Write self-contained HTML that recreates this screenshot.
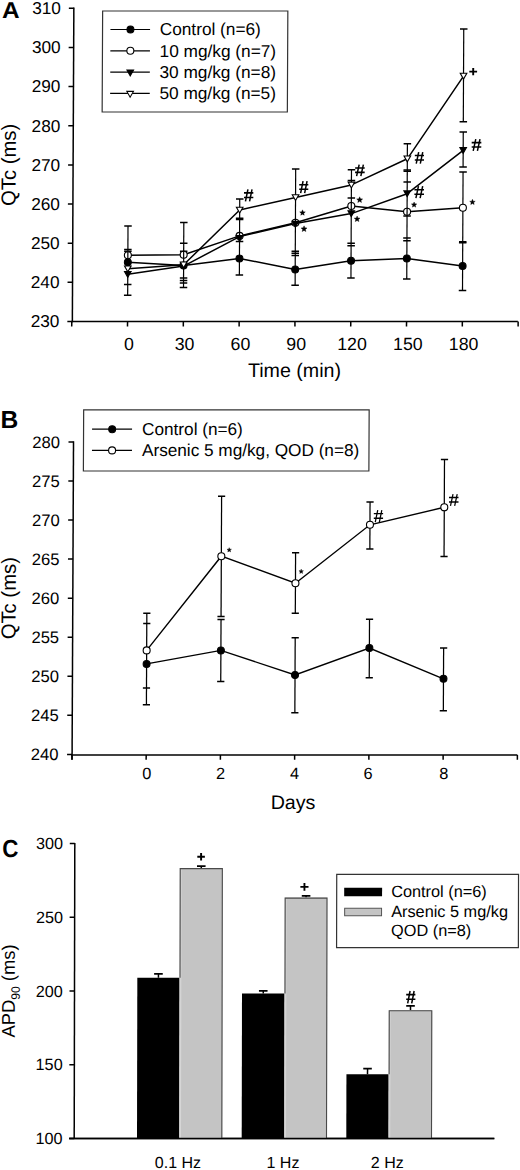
<!DOCTYPE html>
<html><head><meta charset="utf-8"><style>
html,body{margin:0;padding:0;background:#fff;overflow:hidden;width:520px;height:1170px;}
svg{display:block;}
text{fill:#000;}
</style></head><body>
<svg width="520" height="1170" viewBox="0 0 520 1170">
<rect width="520" height="1170" fill="#fff"/>
<g transform="matrix(1,0,-0.0048,1,0.792,0)">
<text transform="translate(1.2,17.9) scale(1.06,1)" font-size="23" font-weight="bold" font-family='"Liberation Sans", sans-serif'>A</text>
<line x1="73.10" y1="7.60" x2="73.10" y2="322.20" stroke="#000" stroke-width="1.5"/>
<line x1="68.10" y1="321.50" x2="73.10" y2="321.50" stroke="#000" stroke-width="1.5"/>
<text x="60.10" y="327.40" font-size="17.2" text-anchor="end" font-weight="normal" font-family='"Liberation Sans", sans-serif' >230</text>
<line x1="68.10" y1="282.35" x2="73.10" y2="282.35" stroke="#000" stroke-width="1.5"/>
<text x="60.10" y="288.25" font-size="17.2" text-anchor="end" font-weight="normal" font-family='"Liberation Sans", sans-serif' >240</text>
<line x1="68.10" y1="243.20" x2="73.10" y2="243.20" stroke="#000" stroke-width="1.5"/>
<text x="60.10" y="249.10" font-size="17.2" text-anchor="end" font-weight="normal" font-family='"Liberation Sans", sans-serif' >250</text>
<line x1="68.10" y1="204.05" x2="73.10" y2="204.05" stroke="#000" stroke-width="1.5"/>
<text x="60.10" y="209.95" font-size="17.2" text-anchor="end" font-weight="normal" font-family='"Liberation Sans", sans-serif' >260</text>
<line x1="68.10" y1="164.90" x2="73.10" y2="164.90" stroke="#000" stroke-width="1.5"/>
<text x="60.10" y="170.80" font-size="17.2" text-anchor="end" font-weight="normal" font-family='"Liberation Sans", sans-serif' >270</text>
<line x1="68.10" y1="125.75" x2="73.10" y2="125.75" stroke="#000" stroke-width="1.5"/>
<text x="60.10" y="131.65" font-size="17.2" text-anchor="end" font-weight="normal" font-family='"Liberation Sans", sans-serif' >280</text>
<line x1="68.10" y1="86.60" x2="73.10" y2="86.60" stroke="#000" stroke-width="1.5"/>
<text x="60.10" y="92.50" font-size="17.2" text-anchor="end" font-weight="normal" font-family='"Liberation Sans", sans-serif' >290</text>
<line x1="68.10" y1="47.45" x2="73.10" y2="47.45" stroke="#000" stroke-width="1.5"/>
<text x="60.10" y="53.35" font-size="17.2" text-anchor="end" font-weight="normal" font-family='"Liberation Sans", sans-serif' >300</text>
<line x1="68.10" y1="8.30" x2="73.10" y2="8.30" stroke="#000" stroke-width="1.5"/>
<text x="60.10" y="14.20" font-size="17.2" text-anchor="end" font-weight="normal" font-family='"Liberation Sans", sans-serif' >310</text>
<line x1="72.40" y1="321.50" x2="518.60" y2="321.50" stroke="#000" stroke-width="1.5"/>
<line x1="72.50" y1="321.50" x2="72.50" y2="326.50" stroke="#000" stroke-width="1.5"/>
<line x1="128.30" y1="321.50" x2="128.30" y2="326.50" stroke="#000" stroke-width="1.5"/>
<text x="129.70" y="349.60" font-size="17.7" text-anchor="middle" font-weight="normal" font-family='"Liberation Sans", sans-serif' >0</text>
<line x1="184.10" y1="321.50" x2="184.10" y2="326.50" stroke="#000" stroke-width="1.5"/>
<text x="185.50" y="349.60" font-size="17.7" text-anchor="middle" font-weight="normal" font-family='"Liberation Sans", sans-serif' >30</text>
<line x1="239.90" y1="321.50" x2="239.90" y2="326.50" stroke="#000" stroke-width="1.5"/>
<text x="241.30" y="349.60" font-size="17.7" text-anchor="middle" font-weight="normal" font-family='"Liberation Sans", sans-serif' >60</text>
<line x1="295.70" y1="321.50" x2="295.70" y2="326.50" stroke="#000" stroke-width="1.5"/>
<text x="297.10" y="349.60" font-size="17.7" text-anchor="middle" font-weight="normal" font-family='"Liberation Sans", sans-serif' >90</text>
<line x1="351.50" y1="321.50" x2="351.50" y2="326.50" stroke="#000" stroke-width="1.5"/>
<text x="352.90" y="349.60" font-size="17.7" text-anchor="middle" font-weight="normal" font-family='"Liberation Sans", sans-serif' >120</text>
<line x1="407.30" y1="321.50" x2="407.30" y2="326.50" stroke="#000" stroke-width="1.5"/>
<text x="408.70" y="349.60" font-size="17.7" text-anchor="middle" font-weight="normal" font-family='"Liberation Sans", sans-serif' >150</text>
<line x1="463.10" y1="321.50" x2="463.10" y2="326.50" stroke="#000" stroke-width="1.5"/>
<text x="464.50" y="349.60" font-size="17.7" text-anchor="middle" font-weight="normal" font-family='"Liberation Sans", sans-serif' >180</text>
<line x1="518.90" y1="321.50" x2="518.90" y2="326.50" stroke="#000" stroke-width="1.5"/>
<text x="295.50" y="377.30" font-size="19.6" text-anchor="middle" font-weight="normal" font-family='"Liberation Sans", sans-serif' >Time (min)</text>
<text transform="translate(15.7,164.9) rotate(-90)" font-size="20.3" text-anchor="middle" font-family='"Liberation Sans", sans-serif'>QTc (ms)</text>
<line x1="128.30" y1="226.00" x2="128.30" y2="295.20" stroke="#000" stroke-width="1.2"/>
<line x1="124.55" y1="226.00" x2="132.05" y2="226.00" stroke="#000" stroke-width="1.5"/>
<line x1="124.55" y1="249.60" x2="132.05" y2="249.60" stroke="#000" stroke-width="1.5"/>
<line x1="124.55" y1="251.20" x2="132.05" y2="251.20" stroke="#000" stroke-width="1.5"/>
<line x1="124.55" y1="284.50" x2="132.05" y2="284.50" stroke="#000" stroke-width="1.5"/>
<line x1="124.55" y1="295.20" x2="132.05" y2="295.20" stroke="#000" stroke-width="1.5"/>
<line x1="184.10" y1="222.40" x2="184.10" y2="287.60" stroke="#000" stroke-width="1.2"/>
<line x1="180.35" y1="222.40" x2="187.85" y2="222.40" stroke="#000" stroke-width="1.5"/>
<line x1="180.35" y1="243.20" x2="187.85" y2="243.20" stroke="#000" stroke-width="1.5"/>
<line x1="180.35" y1="251.30" x2="187.85" y2="251.30" stroke="#000" stroke-width="1.5"/>
<line x1="180.35" y1="278.00" x2="187.85" y2="278.00" stroke="#000" stroke-width="1.5"/>
<line x1="180.35" y1="280.60" x2="187.85" y2="280.60" stroke="#000" stroke-width="1.5"/>
<line x1="180.35" y1="283.00" x2="187.85" y2="283.00" stroke="#000" stroke-width="1.5"/>
<line x1="180.35" y1="287.60" x2="187.85" y2="287.60" stroke="#000" stroke-width="1.5"/>
<line x1="239.90" y1="199.00" x2="239.90" y2="274.90" stroke="#000" stroke-width="1.2"/>
<line x1="236.15" y1="199.00" x2="243.65" y2="199.00" stroke="#000" stroke-width="1.5"/>
<line x1="236.15" y1="218.30" x2="243.65" y2="218.30" stroke="#000" stroke-width="1.5"/>
<line x1="236.15" y1="219.50" x2="243.65" y2="219.50" stroke="#000" stroke-width="1.5"/>
<line x1="236.15" y1="241.50" x2="243.65" y2="241.50" stroke="#000" stroke-width="1.5"/>
<line x1="236.15" y1="274.90" x2="243.65" y2="274.90" stroke="#000" stroke-width="1.5"/>
<line x1="295.70" y1="169.10" x2="295.70" y2="285.30" stroke="#000" stroke-width="1.2"/>
<line x1="291.95" y1="169.10" x2="299.45" y2="169.10" stroke="#000" stroke-width="1.5"/>
<line x1="291.95" y1="251.30" x2="299.45" y2="251.30" stroke="#000" stroke-width="1.5"/>
<line x1="291.95" y1="253.30" x2="299.45" y2="253.30" stroke="#000" stroke-width="1.5"/>
<line x1="291.95" y1="255.40" x2="299.45" y2="255.40" stroke="#000" stroke-width="1.5"/>
<line x1="291.95" y1="285.30" x2="299.45" y2="285.30" stroke="#000" stroke-width="1.5"/>
<line x1="351.50" y1="169.70" x2="351.50" y2="278.00" stroke="#000" stroke-width="1.2"/>
<line x1="347.75" y1="169.70" x2="355.25" y2="169.70" stroke="#000" stroke-width="1.5"/>
<line x1="347.75" y1="180.50" x2="355.25" y2="180.50" stroke="#000" stroke-width="1.5"/>
<line x1="347.75" y1="197.90" x2="355.25" y2="197.90" stroke="#000" stroke-width="1.5"/>
<line x1="347.75" y1="243.30" x2="355.25" y2="243.30" stroke="#000" stroke-width="1.5"/>
<line x1="347.75" y1="245.70" x2="355.25" y2="245.70" stroke="#000" stroke-width="1.5"/>
<line x1="347.75" y1="278.00" x2="355.25" y2="278.00" stroke="#000" stroke-width="1.5"/>
<line x1="407.30" y1="143.70" x2="407.30" y2="279.00" stroke="#000" stroke-width="1.2"/>
<line x1="403.55" y1="143.70" x2="411.05" y2="143.70" stroke="#000" stroke-width="1.5"/>
<line x1="403.55" y1="170.00" x2="411.05" y2="170.00" stroke="#000" stroke-width="1.5"/>
<line x1="403.55" y1="171.20" x2="411.05" y2="171.20" stroke="#000" stroke-width="1.5"/>
<line x1="403.55" y1="182.00" x2="411.05" y2="182.00" stroke="#000" stroke-width="1.5"/>
<line x1="403.55" y1="215.90" x2="411.05" y2="215.90" stroke="#000" stroke-width="1.5"/>
<line x1="403.55" y1="238.00" x2="411.05" y2="238.00" stroke="#000" stroke-width="1.5"/>
<line x1="403.55" y1="240.80" x2="411.05" y2="240.80" stroke="#000" stroke-width="1.5"/>
<line x1="403.55" y1="279.00" x2="411.05" y2="279.00" stroke="#000" stroke-width="1.5"/>
<line x1="463.10" y1="29.00" x2="463.10" y2="121.70" stroke="#000" stroke-width="1.2"/>
<line x1="463.10" y1="132.10" x2="463.10" y2="167.10" stroke="#000" stroke-width="1.2"/>
<line x1="463.10" y1="172.10" x2="463.10" y2="290.40" stroke="#000" stroke-width="1.2"/>
<line x1="459.35" y1="29.00" x2="466.85" y2="29.00" stroke="#000" stroke-width="1.5"/>
<line x1="459.35" y1="121.70" x2="466.85" y2="121.70" stroke="#000" stroke-width="1.5"/>
<line x1="459.35" y1="132.10" x2="466.85" y2="132.10" stroke="#000" stroke-width="1.5"/>
<line x1="459.35" y1="167.10" x2="466.85" y2="167.10" stroke="#000" stroke-width="1.5"/>
<line x1="459.35" y1="172.10" x2="466.85" y2="172.10" stroke="#000" stroke-width="1.5"/>
<line x1="459.35" y1="241.80" x2="466.85" y2="241.80" stroke="#000" stroke-width="1.5"/>
<line x1="459.35" y1="242.80" x2="466.85" y2="242.80" stroke="#000" stroke-width="1.5"/>
<line x1="459.35" y1="290.40" x2="466.85" y2="290.40" stroke="#000" stroke-width="1.5"/>
<polyline points="128.30,262.20 184.10,265.40 239.90,258.50 295.70,269.40 351.50,260.70 407.30,258.60 463.10,266.10" fill="none" stroke="#000" stroke-width="1.5" stroke-linejoin="round"/>
<circle cx="128.30" cy="262.20" r="3.5" fill="#000" stroke="#000" stroke-width="1"/>
<circle cx="184.10" cy="265.40" r="3.5" fill="#000" stroke="#000" stroke-width="1"/>
<circle cx="239.90" cy="258.50" r="3.5" fill="#000" stroke="#000" stroke-width="1"/>
<circle cx="295.70" cy="269.40" r="3.5" fill="#000" stroke="#000" stroke-width="1"/>
<circle cx="351.50" cy="260.70" r="3.5" fill="#000" stroke="#000" stroke-width="1"/>
<circle cx="407.30" cy="258.60" r="3.5" fill="#000" stroke="#000" stroke-width="1"/>
<circle cx="463.10" cy="266.10" r="3.5" fill="#000" stroke="#000" stroke-width="1"/>
<polyline points="128.30,255.20 184.10,254.70 239.90,235.90 295.70,222.80 351.50,206.00 407.30,211.80 463.10,207.70" fill="none" stroke="#000" stroke-width="1.5" stroke-linejoin="round"/>
<circle cx="128.30" cy="255.20" r="3.5" fill="#fff" stroke="#000" stroke-width="1.1"/>
<circle cx="184.10" cy="254.70" r="3.5" fill="#fff" stroke="#000" stroke-width="1.1"/>
<circle cx="239.90" cy="235.90" r="3.5" fill="#fff" stroke="#000" stroke-width="1.1"/>
<circle cx="295.70" cy="222.80" r="3.5" fill="#fff" stroke="#000" stroke-width="1.1"/>
<circle cx="351.50" cy="206.00" r="3.5" fill="#fff" stroke="#000" stroke-width="1.1"/>
<circle cx="407.30" cy="211.80" r="3.5" fill="#fff" stroke="#000" stroke-width="1.1"/>
<circle cx="463.10" cy="207.70" r="3.5" fill="#fff" stroke="#000" stroke-width="1.1"/>
<line x1="128.30" y1="251.20" x2="128.30" y2="259.20" stroke="#000" stroke-width="1.2"/>
<line x1="184.10" y1="250.70" x2="184.10" y2="258.70" stroke="#000" stroke-width="1.2"/>
<line x1="239.90" y1="231.90" x2="239.90" y2="239.90" stroke="#000" stroke-width="1.2"/>
<line x1="295.70" y1="218.80" x2="295.70" y2="226.80" stroke="#000" stroke-width="1.2"/>
<line x1="351.50" y1="202.00" x2="351.50" y2="210.00" stroke="#000" stroke-width="1.2"/>
<line x1="407.30" y1="207.80" x2="407.30" y2="215.80" stroke="#000" stroke-width="1.2"/>
<line x1="236.30" y1="235.60" x2="243.50" y2="235.60" stroke="#000" stroke-width="1.3"/>
<polyline points="128.30,274.30 184.10,266.10 239.90,236.60 295.70,223.40 351.50,213.60 407.30,193.70 463.10,150.30" fill="none" stroke="#000" stroke-width="1.5" stroke-linejoin="round"/>
<polygon points="125.00,271.50 131.60,271.50 128.30,277.30" fill="#000" stroke="#000" stroke-width="1.1" stroke-linejoin="miter"/>
<polygon points="180.80,263.30 187.40,263.30 184.10,269.10" fill="#000" stroke="#000" stroke-width="1.1" stroke-linejoin="miter"/>
<polygon points="236.60,235.60 243.20,235.60 239.90,241.40" fill="#000" stroke="#000" stroke-width="1.1" stroke-linejoin="miter"/>
<polygon points="292.40,221.40 299.00,221.40 295.70,227.20" fill="#000" stroke="#000" stroke-width="1.1" stroke-linejoin="miter"/>
<polygon points="348.20,210.80 354.80,210.80 351.50,216.60" fill="#000" stroke="#000" stroke-width="1.1" stroke-linejoin="miter"/>
<polygon points="404.00,190.90 410.60,190.90 407.30,196.70" fill="#000" stroke="#000" stroke-width="1.1" stroke-linejoin="miter"/>
<polygon points="459.80,147.50 466.40,147.50 463.10,153.30" fill="#000" stroke="#000" stroke-width="1.1" stroke-linejoin="miter"/>
<polyline points="128.30,268.80 184.10,264.80 239.90,210.00 295.70,197.50 351.50,184.90 407.30,158.80 463.10,76.10" fill="none" stroke="#000" stroke-width="1.5" stroke-linejoin="round"/>
<polygon points="125.00,266.00 131.60,266.00 128.30,271.80" fill="#fff" stroke="#000" stroke-width="1.1" stroke-linejoin="miter"/>
<polygon points="180.80,262.00 187.40,262.00 184.10,267.80" fill="#fff" stroke="#000" stroke-width="1.1" stroke-linejoin="miter"/>
<polygon points="236.60,207.20 243.20,207.20 239.90,213.00" fill="#fff" stroke="#000" stroke-width="1.1" stroke-linejoin="miter"/>
<polygon points="292.40,194.70 299.00,194.70 295.70,200.50" fill="#fff" stroke="#000" stroke-width="1.1" stroke-linejoin="miter"/>
<polygon points="348.20,182.10 354.80,182.10 351.50,187.90" fill="#fff" stroke="#000" stroke-width="1.1" stroke-linejoin="miter"/>
<polygon points="404.00,156.00 410.60,156.00 407.30,161.80" fill="#fff" stroke="#000" stroke-width="1.1" stroke-linejoin="miter"/>
<polygon points="459.80,73.30 466.40,73.30 463.10,79.10" fill="#fff" stroke="#000" stroke-width="1.1" stroke-linejoin="miter"/>
<line x1="248.05" y1="189.40" x2="245.63" y2="201.30" stroke="#000" stroke-width="1.5"/>
<line x1="252.14" y1="189.40" x2="249.73" y2="201.30" stroke="#000" stroke-width="1.5"/>
<line x1="244.15" y1="192.89" x2="253.45" y2="192.89" stroke="#000" stroke-width="1.6"/>
<line x1="244.15" y1="197.44" x2="253.45" y2="197.44" stroke="#000" stroke-width="1.6"/>
<line x1="303.13" y1="181.20" x2="300.76" y2="193.10" stroke="#000" stroke-width="1.5"/>
<line x1="307.13" y1="181.20" x2="304.77" y2="193.10" stroke="#000" stroke-width="1.5"/>
<line x1="299.31" y1="184.69" x2="308.41" y2="184.69" stroke="#000" stroke-width="1.6"/>
<line x1="299.31" y1="189.24" x2="308.41" y2="189.24" stroke="#000" stroke-width="1.6"/>
<polygon points="302.73,209.85 303.51,211.73 305.53,211.89 303.99,213.21 304.46,215.19 302.73,214.13 300.99,215.19 301.47,213.21 299.92,211.89 301.95,211.73" fill="#000" stroke="#000" stroke-width="0.4"/>
<polygon points="304.36,225.87 305.18,227.86 307.33,228.03 305.69,229.43 306.19,231.53 304.36,230.41 302.52,231.53 303.02,229.43 301.38,228.03 303.53,227.86" fill="#000" stroke="#000" stroke-width="0.4"/>
<line x1="359.16" y1="164.60" x2="356.66" y2="176.10" stroke="#000" stroke-width="1.5"/>
<line x1="363.38" y1="164.60" x2="360.89" y2="176.10" stroke="#000" stroke-width="1.5"/>
<line x1="355.13" y1="167.97" x2="364.73" y2="167.97" stroke="#000" stroke-width="1.6"/>
<line x1="355.13" y1="172.37" x2="364.73" y2="172.37" stroke="#000" stroke-width="1.6"/>
<polygon points="359.82,196.82 360.64,198.81 362.79,198.98 361.15,200.38 361.65,202.48 359.82,201.36 357.98,202.48 358.48,200.38 356.84,198.98 358.99,198.81" fill="#000" stroke="#000" stroke-width="0.4"/>
<polygon points="357.36,216.03 358.17,217.98 360.28,218.15 358.67,219.53 359.16,221.58 357.36,220.48 355.55,221.58 356.05,219.53 354.44,218.15 356.55,217.98" fill="#000" stroke="#000" stroke-width="0.4"/>
<line x1="418.63" y1="152.10" x2="416.24" y2="163.70" stroke="#000" stroke-width="1.5"/>
<line x1="422.68" y1="152.10" x2="420.29" y2="163.70" stroke="#000" stroke-width="1.5"/>
<line x1="414.77" y1="155.50" x2="423.97" y2="155.50" stroke="#000" stroke-width="1.6"/>
<line x1="414.77" y1="159.94" x2="423.97" y2="159.94" stroke="#000" stroke-width="1.6"/>
<line x1="418.56" y1="186.20" x2="416.07" y2="198.20" stroke="#000" stroke-width="1.5"/>
<line x1="422.79" y1="186.20" x2="420.29" y2="198.20" stroke="#000" stroke-width="1.5"/>
<line x1="414.53" y1="189.72" x2="424.13" y2="189.72" stroke="#000" stroke-width="1.6"/>
<line x1="414.53" y1="194.31" x2="424.13" y2="194.31" stroke="#000" stroke-width="1.6"/>
<polygon points="414.29,202.02 415.04,203.82 416.98,203.97 415.50,205.24 415.95,207.14 414.29,206.12 412.63,207.14 413.08,205.24 411.60,203.97 413.54,203.82" fill="#000" stroke="#000" stroke-width="0.4"/>
<line x1="468.85" y1="71.60" x2="476.65" y2="71.60" stroke="#000" stroke-width="1.9"/>
<line x1="472.75" y1="67.90" x2="472.75" y2="75.30" stroke="#000" stroke-width="1.9"/>
<line x1="475.64" y1="139.20" x2="473.14" y2="150.80" stroke="#000" stroke-width="1.5"/>
<line x1="479.86" y1="139.20" x2="477.36" y2="150.80" stroke="#000" stroke-width="1.5"/>
<line x1="471.60" y1="142.60" x2="481.20" y2="142.60" stroke="#000" stroke-width="1.6"/>
<line x1="471.60" y1="147.04" x2="481.20" y2="147.04" stroke="#000" stroke-width="1.6"/>
<polygon points="472.63,199.31 473.39,201.15 475.38,201.31 473.86,202.60 474.33,204.54 472.63,203.50 470.93,204.54 471.39,202.60 469.88,201.31 471.86,201.15" fill="#000" stroke="#000" stroke-width="0.4"/>
<rect x="101.9" y="11" width="185.2" height="101" fill="#fff" stroke="#333" stroke-width="1.2"/>
<line x1="109.80" y1="29.50" x2="149.40" y2="29.50" stroke="#000" stroke-width="1.2"/>
<circle cx="129.80" cy="29.50" r="3.5" fill="#000" stroke="#000" stroke-width="1"/>
<text x="159.10" y="35.30" font-size="17.25" text-anchor="start" font-weight="normal" font-family='"Liberation Sans", sans-serif' >Control (n=6)</text>
<line x1="109.80" y1="50.80" x2="149.40" y2="50.80" stroke="#000" stroke-width="1.2"/>
<circle cx="129.80" cy="50.80" r="3.5" fill="#fff" stroke="#000" stroke-width="1.1"/>
<text x="159.10" y="56.60" font-size="17.25" text-anchor="start" font-weight="normal" font-family='"Liberation Sans", sans-serif' >10 mg/kg (n=7)</text>
<line x1="109.80" y1="72.10" x2="149.40" y2="72.10" stroke="#000" stroke-width="1.2"/>
<polygon points="126.50,70.10 133.10,70.10 129.80,75.90" fill="#000" stroke="#000" stroke-width="1.1" stroke-linejoin="miter"/>
<text x="159.10" y="77.90" font-size="17.25" text-anchor="start" font-weight="normal" font-family='"Liberation Sans", sans-serif' >30 mg/kg (n=8)</text>
<line x1="109.80" y1="93.40" x2="149.40" y2="93.40" stroke="#000" stroke-width="1.2"/>
<polygon points="126.50,91.40 133.10,91.40 129.80,97.20" fill="#fff" stroke="#000" stroke-width="1.1" stroke-linejoin="miter"/>
<text x="159.10" y="99.20" font-size="17.25" text-anchor="start" font-weight="normal" font-family='"Liberation Sans", sans-serif' >50 mg/kg (n=5)</text>
</g>
<g transform="matrix(1,0,-0.0046,1,2.751,0)">
<text transform="translate(-0.3,428.4) scale(1,1)" font-size="24.6" font-weight="bold" font-family='"Liberation Sans", sans-serif'>B</text>
<line x1="72.80" y1="441.20" x2="72.80" y2="759.80" stroke="#000" stroke-width="1.5"/>
<line x1="67.80" y1="754.40" x2="72.80" y2="754.40" stroke="#000" stroke-width="1.5"/>
<text x="59.30" y="760.50" font-size="16.6" text-anchor="end" font-weight="normal" font-family='"Liberation Sans", sans-serif' >240</text>
<line x1="67.80" y1="715.34" x2="72.80" y2="715.34" stroke="#000" stroke-width="1.5"/>
<text x="59.30" y="721.44" font-size="16.6" text-anchor="end" font-weight="normal" font-family='"Liberation Sans", sans-serif' >245</text>
<line x1="67.80" y1="676.27" x2="72.80" y2="676.27" stroke="#000" stroke-width="1.5"/>
<text x="59.30" y="682.38" font-size="16.6" text-anchor="end" font-weight="normal" font-family='"Liberation Sans", sans-serif' >250</text>
<line x1="67.80" y1="637.21" x2="72.80" y2="637.21" stroke="#000" stroke-width="1.5"/>
<text x="59.30" y="643.31" font-size="16.6" text-anchor="end" font-weight="normal" font-family='"Liberation Sans", sans-serif' >255</text>
<line x1="67.80" y1="598.15" x2="72.80" y2="598.15" stroke="#000" stroke-width="1.5"/>
<text x="59.30" y="604.25" font-size="16.6" text-anchor="end" font-weight="normal" font-family='"Liberation Sans", sans-serif' >260</text>
<line x1="67.80" y1="559.09" x2="72.80" y2="559.09" stroke="#000" stroke-width="1.5"/>
<text x="59.30" y="565.19" font-size="16.6" text-anchor="end" font-weight="normal" font-family='"Liberation Sans", sans-serif' >265</text>
<line x1="67.80" y1="520.02" x2="72.80" y2="520.02" stroke="#000" stroke-width="1.5"/>
<text x="59.30" y="526.12" font-size="16.6" text-anchor="end" font-weight="normal" font-family='"Liberation Sans", sans-serif' >270</text>
<line x1="67.80" y1="480.96" x2="72.80" y2="480.96" stroke="#000" stroke-width="1.5"/>
<text x="59.30" y="487.06" font-size="16.6" text-anchor="end" font-weight="normal" font-family='"Liberation Sans", sans-serif' >275</text>
<line x1="67.80" y1="441.90" x2="72.80" y2="441.90" stroke="#000" stroke-width="1.5"/>
<text x="59.30" y="448.00" font-size="16.6" text-anchor="end" font-weight="normal" font-family='"Liberation Sans", sans-serif' >280</text>
<line x1="72.10" y1="755.00" x2="518.10" y2="755.00" stroke="#000" stroke-width="1.5"/>
<line x1="72.66" y1="755.00" x2="72.66" y2="759.80" stroke="#000" stroke-width="1.5"/>
<line x1="146.90" y1="755.00" x2="146.90" y2="759.80" stroke="#000" stroke-width="1.5"/>
<text x="147.55" y="779.30" font-size="16.3" text-anchor="middle" font-weight="normal" font-family='"Liberation Sans", sans-serif' >0</text>
<line x1="221.14" y1="755.00" x2="221.14" y2="759.80" stroke="#000" stroke-width="1.5"/>
<text x="221.40" y="779.30" font-size="16.3" text-anchor="middle" font-weight="normal" font-family='"Liberation Sans", sans-serif' >2</text>
<line x1="295.38" y1="755.00" x2="295.38" y2="759.80" stroke="#000" stroke-width="1.5"/>
<text x="295.40" y="779.30" font-size="16.3" text-anchor="middle" font-weight="normal" font-family='"Liberation Sans", sans-serif' >4</text>
<line x1="369.62" y1="755.00" x2="369.62" y2="759.80" stroke="#000" stroke-width="1.5"/>
<text x="368.80" y="779.30" font-size="16.3" text-anchor="middle" font-weight="normal" font-family='"Liberation Sans", sans-serif' >6</text>
<line x1="443.86" y1="755.00" x2="443.86" y2="759.80" stroke="#000" stroke-width="1.5"/>
<text x="444.70" y="779.30" font-size="16.3" text-anchor="middle" font-weight="normal" font-family='"Liberation Sans", sans-serif' >8</text>
<line x1="518.10" y1="755.00" x2="518.10" y2="759.80" stroke="#000" stroke-width="1.5"/>
<text x="294.00" y="809.30" font-size="19.6" text-anchor="middle" font-weight="normal" font-family='"Liberation Sans", sans-serif' >Days</text>
<text transform="translate(15.7,598.2) rotate(-90)" font-size="20.3" text-anchor="middle" font-family='"Liberation Sans", sans-serif'>QTc (ms)</text>
<line x1="146.90" y1="613.20" x2="146.90" y2="704.80" stroke="#000" stroke-width="1.25"/>
<line x1="143.30" y1="613.20" x2="150.50" y2="613.20" stroke="#000" stroke-width="1.5"/>
<line x1="143.30" y1="623.50" x2="150.50" y2="623.50" stroke="#000" stroke-width="1.5"/>
<line x1="143.30" y1="688.10" x2="150.50" y2="688.10" stroke="#000" stroke-width="1.5"/>
<line x1="143.30" y1="704.80" x2="150.50" y2="704.80" stroke="#000" stroke-width="1.5"/>
<line x1="221.14" y1="496.20" x2="221.14" y2="616.60" stroke="#000" stroke-width="1.25"/>
<line x1="221.14" y1="619.60" x2="221.14" y2="681.40" stroke="#000" stroke-width="1.25"/>
<line x1="217.54" y1="496.20" x2="224.74" y2="496.20" stroke="#000" stroke-width="1.5"/>
<line x1="217.54" y1="616.60" x2="224.74" y2="616.60" stroke="#000" stroke-width="1.5"/>
<line x1="217.54" y1="619.60" x2="224.74" y2="619.60" stroke="#000" stroke-width="1.5"/>
<line x1="217.54" y1="681.40" x2="224.74" y2="681.40" stroke="#000" stroke-width="1.5"/>
<line x1="295.38" y1="552.70" x2="295.38" y2="613.20" stroke="#000" stroke-width="1.25"/>
<line x1="295.38" y1="637.70" x2="295.38" y2="712.70" stroke="#000" stroke-width="1.25"/>
<line x1="291.78" y1="552.70" x2="298.98" y2="552.70" stroke="#000" stroke-width="1.5"/>
<line x1="291.78" y1="613.20" x2="298.98" y2="613.20" stroke="#000" stroke-width="1.5"/>
<line x1="291.78" y1="637.70" x2="298.98" y2="637.70" stroke="#000" stroke-width="1.5"/>
<line x1="291.78" y1="712.70" x2="298.98" y2="712.70" stroke="#000" stroke-width="1.5"/>
<line x1="369.62" y1="501.90" x2="369.62" y2="549.00" stroke="#000" stroke-width="1.25"/>
<line x1="369.62" y1="619.20" x2="369.62" y2="677.70" stroke="#000" stroke-width="1.25"/>
<line x1="366.02" y1="501.90" x2="373.22" y2="501.90" stroke="#000" stroke-width="1.5"/>
<line x1="366.02" y1="549.00" x2="373.22" y2="549.00" stroke="#000" stroke-width="1.5"/>
<line x1="366.02" y1="619.20" x2="373.22" y2="619.20" stroke="#000" stroke-width="1.5"/>
<line x1="366.02" y1="677.70" x2="373.22" y2="677.70" stroke="#000" stroke-width="1.5"/>
<line x1="443.86" y1="459.40" x2="443.86" y2="556.60" stroke="#000" stroke-width="1.25"/>
<line x1="443.86" y1="648.10" x2="443.86" y2="710.80" stroke="#000" stroke-width="1.25"/>
<line x1="440.26" y1="459.40" x2="447.46" y2="459.40" stroke="#000" stroke-width="1.5"/>
<line x1="440.26" y1="556.60" x2="447.46" y2="556.60" stroke="#000" stroke-width="1.5"/>
<line x1="440.26" y1="648.10" x2="447.46" y2="648.10" stroke="#000" stroke-width="1.5"/>
<line x1="440.26" y1="710.80" x2="447.46" y2="710.80" stroke="#000" stroke-width="1.5"/>
<polyline points="146.90,663.90 221.14,650.40 295.38,675.00 369.62,648.10 443.86,678.80" fill="none" stroke="#000" stroke-width="1.4"/>
<polyline points="146.90,650.40 221.14,556.20 295.38,583.20 369.62,524.80 443.86,507.30" fill="none" stroke="#000" stroke-width="1.4"/>
<circle cx="146.90" cy="663.90" r="3.5" fill="#000" stroke="#000" stroke-width="1"/>
<circle cx="221.14" cy="650.40" r="3.5" fill="#000" stroke="#000" stroke-width="1"/>
<circle cx="295.38" cy="675.00" r="3.5" fill="#000" stroke="#000" stroke-width="1"/>
<circle cx="369.62" cy="648.10" r="3.5" fill="#000" stroke="#000" stroke-width="1"/>
<circle cx="443.86" cy="678.80" r="3.5" fill="#000" stroke="#000" stroke-width="1"/>
<circle cx="146.90" cy="650.40" r="3.5" fill="#fff" stroke="#000" stroke-width="1.1"/>
<circle cx="221.14" cy="556.20" r="3.5" fill="#fff" stroke="#000" stroke-width="1.1"/>
<circle cx="295.38" cy="583.20" r="3.5" fill="#fff" stroke="#000" stroke-width="1.1"/>
<circle cx="369.62" cy="524.80" r="3.5" fill="#fff" stroke="#000" stroke-width="1.1"/>
<circle cx="443.86" cy="507.30" r="3.5" fill="#fff" stroke="#000" stroke-width="1.1"/>
<polygon points="228.98,547.64 229.60,549.14 231.22,549.27 229.99,550.33 230.36,551.91 228.98,551.06 227.59,551.91 227.97,550.33 226.73,549.27 228.35,549.14" fill="#000" stroke="#000" stroke-width="0.4"/>
<polygon points="301.08,569.14 301.70,570.64 303.32,570.77 302.09,571.83 302.46,573.41 301.08,572.56 299.69,573.41 300.07,571.83 298.83,570.77 300.45,570.64" fill="#000" stroke="#000" stroke-width="0.4"/>
<line x1="377.33" y1="510.20" x2="374.91" y2="522.10" stroke="#000" stroke-width="1.25"/>
<line x1="381.42" y1="510.20" x2="379.00" y2="522.10" stroke="#000" stroke-width="1.25"/>
<line x1="373.42" y1="513.69" x2="382.72" y2="513.69" stroke="#000" stroke-width="1.35"/>
<line x1="373.42" y1="518.24" x2="382.72" y2="518.24" stroke="#000" stroke-width="1.35"/>
<line x1="452.54" y1="494.10" x2="450.07" y2="505.80" stroke="#000" stroke-width="1.25"/>
<line x1="456.72" y1="494.10" x2="454.25" y2="505.80" stroke="#000" stroke-width="1.25"/>
<line x1="448.55" y1="497.53" x2="458.05" y2="497.53" stroke="#000" stroke-width="1.35"/>
<line x1="448.55" y1="502.01" x2="458.05" y2="502.01" stroke="#000" stroke-width="1.35"/>
<rect x="82.8" y="409.8" width="285.5" height="61.2" fill="#fff" stroke="#333" stroke-width="1.2"/>
<line x1="91.30" y1="429.20" x2="131.30" y2="429.20" stroke="#000" stroke-width="1.2"/>
<circle cx="111.40" cy="429.20" r="3.5" fill="#000" stroke="#000" stroke-width="1"/>
<text x="141.30" y="435.20" font-size="17.2" text-anchor="start" font-weight="normal" font-family='"Liberation Sans", sans-serif' >Control (n=6)</text>
<line x1="91.30" y1="450.40" x2="131.30" y2="450.40" stroke="#000" stroke-width="1.2"/>
<circle cx="111.40" cy="450.40" r="3.5" fill="#fff" stroke="#000" stroke-width="1.1"/>
<text x="141.30" y="456.40" font-size="17.2" text-anchor="start" font-weight="normal" font-family='"Liberation Sans", sans-serif' >Arsenic 5 mg/kg, QOD (n=8)</text>
</g>
<g transform="matrix(1,0,-0.002,1,1.980,0)">
<text transform="translate(1.9,857.0) scale(0.9,1)" font-size="24.8" font-weight="bold" font-family='"Liberation Sans", sans-serif'>C</text>
<line x1="74.50" y1="842.90" x2="74.50" y2="1138.40" stroke="#000" stroke-width="1.5"/>
<line x1="69.50" y1="1138.40" x2="74.50" y2="1138.40" stroke="#000" stroke-width="1.5"/>
<text x="62.80" y="1144.20" font-size="16.2" text-anchor="end" font-weight="normal" font-family='"Liberation Sans", sans-serif' >100</text>
<line x1="69.50" y1="1064.70" x2="74.50" y2="1064.70" stroke="#000" stroke-width="1.5"/>
<text x="62.80" y="1070.50" font-size="16.2" text-anchor="end" font-weight="normal" font-family='"Liberation Sans", sans-serif' >150</text>
<line x1="69.50" y1="991.00" x2="74.50" y2="991.00" stroke="#000" stroke-width="1.5"/>
<text x="62.80" y="996.80" font-size="16.2" text-anchor="end" font-weight="normal" font-family='"Liberation Sans", sans-serif' >200</text>
<line x1="69.50" y1="917.30" x2="74.50" y2="917.30" stroke="#000" stroke-width="1.5"/>
<text x="62.80" y="923.10" font-size="16.2" text-anchor="end" font-weight="normal" font-family='"Liberation Sans", sans-serif' >250</text>
<line x1="69.50" y1="843.60" x2="74.50" y2="843.60" stroke="#000" stroke-width="1.5"/>
<text x="62.80" y="849.40" font-size="16.2" text-anchor="end" font-weight="normal" font-family='"Liberation Sans", sans-serif' >300</text>
<line x1="69.50" y1="1138.40" x2="494.60" y2="1138.40" stroke="#000" stroke-width="1.5"/>
<line x1="158.40" y1="973.80" x2="158.40" y2="977.70" stroke="#000" stroke-width="1.5"/>
<line x1="154.10" y1="973.80" x2="162.70" y2="973.80" stroke="#000" stroke-width="1.8"/>
<rect x="137.30" y="977.70" width="42.20" height="160.70" fill="#000"/>
<line x1="201.05" y1="866.20" x2="201.05" y2="868.10" stroke="#000" stroke-width="1.5"/>
<line x1="196.75" y1="866.20" x2="205.35" y2="866.20" stroke="#000" stroke-width="1.8"/>
<rect x="179.50" y="868.10" width="43.10" height="270.30" fill="#c4c4c4"/>
<rect x="180.10" y="869.10" width="1.2" height="269.30" fill="#d6d6d6"/>
<path d="M180.00,977.70 V868.60 H222.10 V1138.40" fill="none" stroke="#4a4a4a" stroke-width="1.1"/>
<line x1="263.25" y1="990.90" x2="263.25" y2="993.40" stroke="#000" stroke-width="1.5"/>
<line x1="258.95" y1="990.90" x2="267.55" y2="990.90" stroke="#000" stroke-width="1.8"/>
<rect x="242.00" y="993.40" width="42.50" height="145.00" fill="#000"/>
<line x1="305.90" y1="895.80" x2="305.90" y2="897.60" stroke="#000" stroke-width="1.5"/>
<line x1="301.60" y1="895.80" x2="310.20" y2="895.80" stroke="#000" stroke-width="1.8"/>
<rect x="284.50" y="897.60" width="42.80" height="240.80" fill="#c4c4c4"/>
<rect x="285.10" y="898.60" width="1.2" height="239.80" fill="#d6d6d6"/>
<path d="M285.00,993.40 V898.10 H326.80 V1138.40" fill="none" stroke="#4a4a4a" stroke-width="1.1"/>
<line x1="367.70" y1="1068.60" x2="367.70" y2="1074.20" stroke="#000" stroke-width="1.5"/>
<line x1="363.40" y1="1068.60" x2="372.00" y2="1068.60" stroke="#000" stroke-width="1.8"/>
<rect x="346.60" y="1074.20" width="42.20" height="64.20" fill="#000"/>
<line x1="410.55" y1="1005.90" x2="410.55" y2="1010.30" stroke="#000" stroke-width="1.5"/>
<line x1="406.25" y1="1005.90" x2="414.85" y2="1005.90" stroke="#000" stroke-width="1.8"/>
<rect x="388.80" y="1010.30" width="43.50" height="128.10" fill="#c4c4c4"/>
<rect x="389.40" y="1011.30" width="1.2" height="127.10" fill="#d6d6d6"/>
<path d="M389.30,1074.20 V1010.80 H431.80 V1138.40" fill="none" stroke="#4a4a4a" stroke-width="1.1"/>
<line x1="69.50" y1="1138.40" x2="494.60" y2="1138.40" stroke="#000" stroke-width="1.5"/>
<line x1="197.03" y1="856.80" x2="204.63" y2="856.80" stroke="#000" stroke-width="1.9"/>
<line x1="200.83" y1="853.10" x2="200.83" y2="860.50" stroke="#000" stroke-width="1.9"/>
<line x1="300.19" y1="886.90" x2="308.29" y2="886.90" stroke="#000" stroke-width="1.9"/>
<line x1="304.24" y1="883.10" x2="304.24" y2="890.70" stroke="#000" stroke-width="1.9"/>
<line x1="410.08" y1="991.00" x2="407.69" y2="1003.30" stroke="#000" stroke-width="1.5"/>
<line x1="414.13" y1="991.00" x2="411.73" y2="1003.30" stroke="#000" stroke-width="1.5"/>
<line x1="406.21" y1="994.61" x2="415.41" y2="994.61" stroke="#000" stroke-width="1.6"/>
<line x1="406.21" y1="999.31" x2="415.41" y2="999.31" stroke="#000" stroke-width="1.6"/>
<text x="178.30" y="1168.30" font-size="16" text-anchor="middle" font-weight="normal" font-family='"Liberation Sans", sans-serif' >0.1 Hz</text>
<text x="283.30" y="1168.30" font-size="16" text-anchor="middle" font-weight="normal" font-family='"Liberation Sans", sans-serif' >1 Hz</text>
<text x="387.60" y="1168.30" font-size="16" text-anchor="middle" font-weight="normal" font-family='"Liberation Sans", sans-serif' >2 Hz</text>
<text transform="translate(14.8,991) rotate(-90)" font-size="18.4" text-anchor="middle" font-family='"Liberation Sans", sans-serif'>APD<tspan font-size="12.2" dy="5">90</tspan><tspan dy="-5"> (ms)</tspan></text>
<rect x="336.5" y="874.4" width="181.8" height="73.2" fill="#fff" stroke="#333" stroke-width="1.2"/>
<rect x="344" y="887.7" width="37.9" height="8.5" fill="#000"/>
<rect x="344.5" y="908.2" width="36.9" height="7.6" fill="#c4c4c4" stroke="#555" stroke-width="1"/>
<text x="391.00" y="897.40" font-size="16.3" text-anchor="start" font-weight="normal" font-family='"Liberation Sans", sans-serif' >Control (n=6)</text>
<text x="391.00" y="917.10" font-size="16.3" text-anchor="start" font-weight="normal" font-family='"Liberation Sans", sans-serif' >Arsenic 5 mg/kg</text>
<text x="391.00" y="935.90" font-size="16.3" text-anchor="start" font-weight="normal" font-family='"Liberation Sans", sans-serif' >QOD (n=8)</text>
</g>
</svg>
</body></html>
